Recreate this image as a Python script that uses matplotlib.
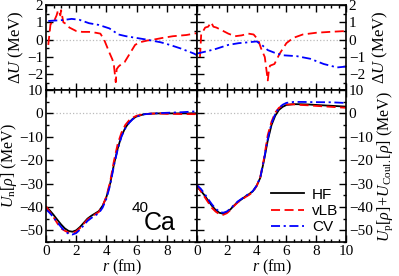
import matplotlib
matplotlib.use('Agg')
import matplotlib.pyplot as plt
from matplotlib.ticker import MultipleLocator

plt.rcParams['font.family'] = 'serif'
plt.rcParams['font.serif'] = ['Liberation Serif', 'DejaVu Serif']
plt.rcParams['mathtext.fontset'] = 'custom'
plt.rcParams['mathtext.rm'] = 'Liberation Serif'
plt.rcParams['mathtext.it'] = 'Liberation Serif:italic'
plt.rcParams['mathtext.sf'] = 'Liberation Sans'

# potentials, common radial grid (fm)
r = [0, 0.25, 0.5, 0.75, 1.0, 1.25, 1.5, 1.75, 2.0, 2.25, 2.5, 2.75, 3.0, 3.25,
     3.5, 3.75, 4.0, 4.25, 4.5, 4.75, 5.0, 5.25, 5.5, 5.75, 6.0, 6.5, 7.0, 7.5,
     8.0, 9.0, 10.0]

un_hf = [-40.0, -41.5, -43.4, -45.5, -47.5, -49.2, -50.3, -50.6, -50.0, -48.6,
         -46.8, -45.0, -43.8, -42.8, -41.8, -39.5, -35.8, -30.0, -21.8, -15.0,
         -9.6, -6.2, -3.9, -2.3, -1.3, -0.35, -0.1, 0.0, 0.0, 0.0, 0.0]
un_vlb = [-39.7, -42.1, -44.4, -47.0, -49.2, -50.2, -51.0, -51.2, -50.5, -49.05,
          -47.2, -45.4, -44.2, -43.2, -42.15, -39.65, -35.5, -29.15, -20.3, -13.0,
          -8.2, -4.95, -3.0, -1.8, -1.0, -0.3, -0.1, -0.05, -0.2, -0.28, -0.35]
un_cv = [-41.05, -42.6, -44.5, -46.6, -48.6, -50.35, -51.5, -51.8, -51.2, -49.7,
         -47.85, -46.0, -44.75, -43.7, -42.65, -40.3, -36.5, -30.65, -22.3, -15.35,
         -9.9, -6.4, -4.1, -2.45, -1.4, -0.4, -0.08, 0.12, 0.25, 0.5, 0.9]

up_hf = [-31.5, -33.0, -35.0, -37.3, -39.5, -41.3, -42.5, -42.9, -42.3, -41.0,
         -39.3, -37.8, -36.7, -35.5, -34.5, -33.3, -31.0, -27.5, -20.0, -11.5,
         -5.0, -1.0, 1.5, 2.8, 3.6, 3.95, 3.9, 3.8, 3.6, 3.25, 2.9]
up_vlb = [-30.5, -33.3, -35.65, -38.05, -40.45, -42.0, -43.1, -43.4, -42.7, -41.3,
          -39.5, -38.0, -36.95, -35.8, -34.85, -33.6, -31.1, -27.1, -19.1, -9.2,
          -3.55, 0.35, 2.4, 3.3, 3.8, 3.85, 3.6, 3.45, 3.2, 2.8, 2.4]
up_cv = [-30.7, -32.2, -34.3, -36.65, -38.9, -40.75, -42.0, -42.5, -41.95, -40.7,
         -39.05, -37.6, -36.5, -35.35, -34.35, -33.2, -30.9, -27.3, -19.55, -10.9,
         -4.3, -0.25, 2.3, 3.7, 4.5, 4.9, 4.9, 4.85, 4.8, 4.75, 4.45]

# differences Delta U
r_dn_vlb = [0.15, 0.3, 0.5, 0.7, 0.8, 0.95, 1.0, 1.15, 1.35, 1.55, 2.0, 2.4, 2.85,
            3.3, 3.6, 3.85, 4.2, 4.4, 4.5, 4.62, 4.68, 4.8, 5.0, 5.2, 5.55, 5.9,
            6.2, 6.7, 7.1, 7.7, 8.4, 9.3, 10.0]
dn_vlb = [-0.3, 0.9, 1.0, 1.4, 1.7, 1.4, 1.7, 1.0, 0.9, 0.7, 0.5, 0.45, 0.45,
          0.4, 0.35, 0.0, -0.75, -1.15, -1.5, -2.45, -1.7, -1.55, -1.4, -1.3,
          -0.8, -0.3, -0.15, -0.05, 0.0, 0.1, 0.2, 0.27, 0.38]
r_dn_cv = [0.15, 1.1, 1.7, 2.2, 2.85, 3.5, 4.2, 4.8, 5.3, 6.0, 6.7, 7.6, 8.2,
           8.9, 9.8, 10.0]
dn_cv = [1.08, 1.13, 1.2, 1.15, 0.95, 0.85, 0.65, 0.3, 0.2, 0.1, 0.0, -0.15,
         -0.3, -0.5, -0.8, -0.9]

r_dp_vlb = [0.2, 0.28, 0.55, 0.75, 0.95, 1.1, 1.3, 1.65, 2.1, 2.55, 3.0, 3.45,
            3.8, 4.1, 4.3, 4.55, 4.75, 4.82, 4.9, 5.2, 5.55, 6.0, 6.45, 7.1,
            8.0, 8.9, 10.0]
dp_vlb = [-1.0, 0.3, 0.7, 0.75, 1.0, 0.75, 0.7, 0.55, 0.35, 0.2, 0.25, 0.35,
          0.3, 0.0, -0.5, -1.0, -2.35, -1.8, -1.5, -1.4, -0.8, -0.2, 0.1, 0.3,
          0.4, 0.45, 0.5]
r_dp_cv = [0.0, 0.5, 1.2, 2.1, 2.8, 3.45, 4.0, 4.35, 4.75, 5.2, 5.8, 6.7, 7.6,
           8.5, 9.4, 10.0]
dp_cv = [-0.8, -0.7, -0.55, -0.3, -0.2, -0.15, -0.1, -0.3, -0.6, -0.75, -0.9,
         -0.95, -1.1, -1.4, -1.6, -1.55]

labels = ['HF', 'vLB', 'CV']

fig = plt.figure(figsize=(3.99, 2.76), dpi=100)
x0, xm, x1 = 46 / 399, 197 / 399, 346 / 399
yt, ym, yb = 1 - 5 / 276, 1 - 90 / 276, 1 - 242 / 276
ax_tl = fig.add_axes([x0, ym, xm - x0, yt - ym])
ax_tr = fig.add_axes([xm, ym, x1 - xm, yt - ym])
ax_bl = fig.add_axes([x0, yb, xm - x0, ym - yb])
ax_br = fig.add_axes([xm, yb, x1 - xm, ym - yb])

red = '#ff0000'
blue = '#0000ff'
dash = (0, (5, 2.5))
dashdot = (0, (5, 2, 1.2, 2))
lw = 1.3

ax_tl.plot(r_dn_vlb, dn_vlb, color=red, ls=dash, lw=lw)
ax_tl.plot(r_dn_cv, dn_cv, color=blue, ls=dashdot, lw=lw)
ax_tr.plot(r_dp_vlb, dp_vlb, color=red, ls=dash, lw=lw)
ax_tr.plot(r_dp_cv, dp_cv, color=blue, ls=dashdot, lw=lw)

ax_bl.plot(r, un_hf, color='black', lw=lw)
ax_bl.plot(r, un_vlb, color=red, ls=dash, lw=lw)
ax_bl.plot(r, un_cv, color=blue, ls=dashdot, lw=lw)
ax_br.plot(r, up_hf, color='black', lw=lw, label=labels[0])
ax_br.plot(r, up_vlb, color=red, ls=dash, lw=lw, label=labels[1])
ax_br.plot(r, up_cv, color=blue, ls=dashdot, lw=lw, label=labels[2])

for ax in [ax_tl, ax_tr, ax_bl, ax_br]:
    ax.axhline(0, color='#bbbbbb', ls=':', lw=0.9, zorder=0)
    ax.set_xlim(0, 10)
    ax.xaxis.set_major_locator(MultipleLocator(2))
    ax.xaxis.set_minor_locator(MultipleLocator(0.5))
    ax.tick_params(which='both', direction='in', top=True, right=True,
                   labelsize=11, width=1.0, pad=2)
    ax.tick_params(which='major', length=5)
    ax.tick_params(which='minor', length=2.5)
    for s in ax.spines.values():
        s.set_linewidth(1.2)

for ax in [ax_tl, ax_tr]:
    ax.set_ylim(-2.9, 2)
    ax.yaxis.set_major_locator(MultipleLocator(1))
    ax.yaxis.set_minor_locator(MultipleLocator(0.5))
    ax.tick_params(labelbottom=False)

for ax in [ax_bl, ax_br]:
    ax.set_ylim(-55, 10)
    ax.yaxis.set_major_locator(MultipleLocator(10))
    ax.yaxis.set_minor_locator(MultipleLocator(5))
    ax.set_xlabel(r'$r$ (fm)', fontsize=11.5, labelpad=0)

for ax in [ax_tr, ax_br]:
    ax.tick_params(labelleft=False, labelright=True)
    ax.yaxis.set_label_position('right')

ax_bl.set_xticks([0, 2, 4, 6, 8, 10])
ax_bl.set_xticklabels(['0', '2', '4', '6', '8', ''])

ax_tl.set_ylabel(r'$\Delta U$ (MeV)', fontsize=12, labelpad=1)
ax_tr.set_ylabel(r'$\Delta U$ (MeV)', fontsize=12, labelpad=4, rotation=90)
ax_bl.set_ylabel(r'$U_{\rm n}[\rho]$ (MeV)', fontsize=11.5, labelpad=0)
ax_br.set_ylabel(r'$U_{\rm p}[\rho]\!+\!U_{\rm Coul.}[\rho]$ (MeV)', fontsize=11.5,
                 labelpad=2, rotation=90)

ax_bl.text(0.645, 0.08, 'Ca', transform=ax_bl.transAxes, fontsize=18,
           family='Liberation Sans', ha='left', va='baseline')
ax_bl.text(0.565, 0.2, '40', transform=ax_bl.transAxes, fontsize=11,
           family='Liberation Sans', ha='left', va='baseline')

ax_br.legend(loc='lower right', frameon=False, handlelength=2.2,
             prop={'family': 'Liberation Sans', 'size': 11},
             borderaxespad=0.1, labelspacing=0.15, handletextpad=0.5)

fig.savefig('out.png', dpi=100)
